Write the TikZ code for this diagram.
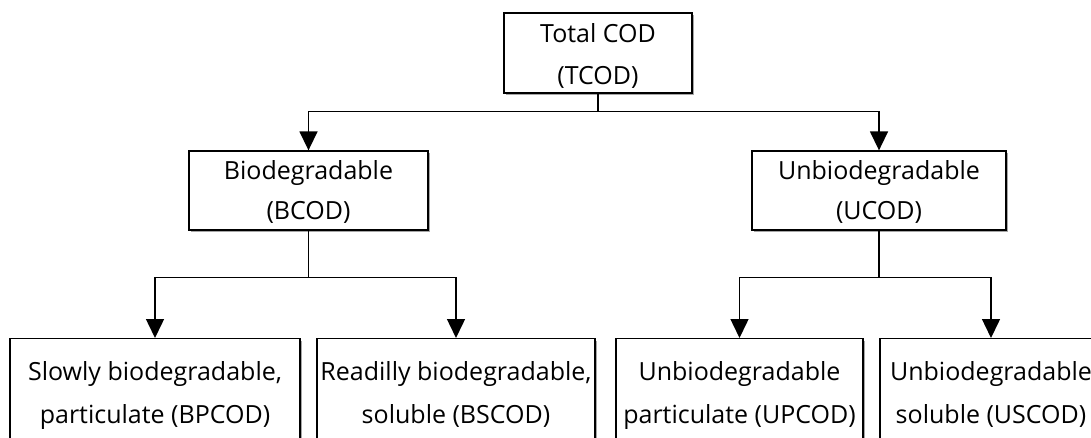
\documentclass[tikz,border=0pt]{standalone}
\usepackage{fontspec}
\setmainfont{Open Sans}
\usetikzlibrary{arrows.meta,shadows}
\begin{document}
\begin{tikzpicture}[x=1pt,y=-1pt,
  box/.style={draw=black, line width=1.3pt, fill=white, inner sep=0pt,
    drop shadow={shadow xshift=2pt, shadow yshift=-2pt, fill=gray!70, opacity=1}},
  txt/.style={anchor=base, inner sep=0pt, font=\fontsize{25}{29}\selectfont},
  conn/.style={line width=1.5pt, draw=black},
  arr/.style={conn, -{Triangle[width=18pt,length=19pt]}}]
\useasboundingbox (0,0) rectangle (1091,438);
\clip (0,0) rectangle (1091,438);
% boxes
\node[box, minimum width=188pt, minimum height=80pt] (top) at (598,53) {};
\node[box, minimum width=239pt, minimum height=79pt] (bcod) at (308.5,190.5) {};
\node[box, minimum width=254pt, minimum height=79pt] (ucod) at (879,190.5) {};
\node[box, minimum width=290pt, minimum height=130pt, anchor=north] (bp) at (155,338) {};
\node[box, minimum width=278pt, minimum height=130pt, anchor=north] (bs) at (456,338) {};
\node[box, minimum width=247pt, minimum height=130pt, anchor=north] (up) at (739.5,338) {};
\node[box, minimum width=222pt, minimum height=130pt, anchor=north] (us) at (991,338) {};
% texts
\node[txt] (t1) at (598,43) {Total COD};
\node[txt] (t2) at (598,85) {(TCOD)};
\node[txt] (b1) at (308.5,180) {Biodegradable};
\node[txt] (b2) at (308.5,220) {(BCOD)};
\node[txt] (u1) at (879,180) {Unbiodegradable};
\node[txt] (u2) at (879,220) {(UCOD)};
\node[txt] (bp1) at (155,380) {Slowly biodegradable,};
\node[txt] (bp2) at (155,423) {particulate (BPCOD)};
\node[txt] (bs1) at (456,380) {Readilly biodegradable,};
\node[txt] (bs2) at (456,423) {soluble (BSCOD)};
\node[txt] (up1) at (739.5,380) {Unbiodegradable};
\node[txt] (up2) at (739.5,423) {particulate (UPCOD)};
\node[txt] (us1) at (991,380) {Unbiodegradable};
\node[txt] (us2) at (991,423) {soluble (USCOD)};
% connectors
\draw[arr] (top.south) -- ++(0,18) -| (bcod.north);
\draw[arr] (top.south) -- ++(0,18) -| (ucod.north);
\draw[arr] (bcod.south) -- ++(0,47) -| (bp.north);
\draw[arr] (bcod.south) -- ++(0,47) -| (bs.north);
\draw[arr] (ucod.south) -- ++(0,47) -| (up.north);
\draw[arr] (ucod.south) -- ++(0,47) -| (us.north);
\end{tikzpicture}
\end{document}
